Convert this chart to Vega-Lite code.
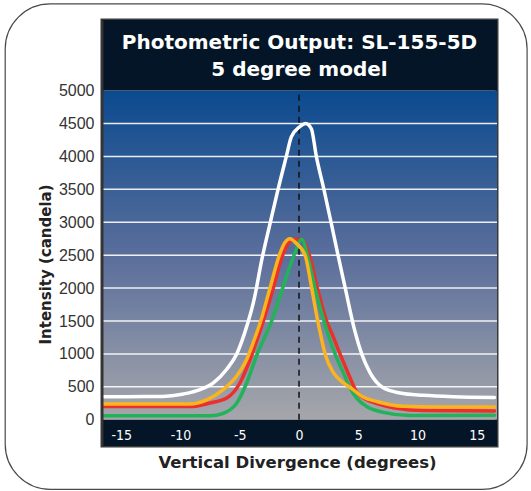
{
  "$schema": "https://vega.github.io/schema/vega-lite/v6.json",
  "width": 395,
  "height": 426,
  "autosize": {"type": "none"},
  "padding": {"left": 102, "top": 20, "right": 34, "bottom": 45},
  "background": "white",
  "title": {
    "text": ["Photometric Output: SL-155-5D", "5 degree model"],
    "color": "white",
    "font": "DejaVu Sans",
    "fontSize": 20,
    "fontWeight": "bold",
    "lineHeight": 27,
    "anchor": "middle",
    "frame": "group",
    "offset": -77
  },
  "datasets": {
    "curves": [
      {"series": "white", "deg": -16.5, "val": 350},
      {"series": "white", "deg": -13, "val": 352},
      {"series": "white", "deg": -11.2, "val": 358},
      {"series": "white", "deg": -9.76, "val": 392},
      {"series": "white", "deg": -8.35, "val": 459},
      {"series": "white", "deg": -7.23, "val": 562},
      {"series": "white", "deg": -6.1, "val": 768},
      {"series": "white", "deg": -5.26, "val": 1000},
      {"series": "white", "deg": -4.56, "val": 1335},
      {"series": "white", "deg": -3.8, "val": 1820},
      {"series": "white", "deg": -3.12, "val": 2450},
      {"series": "white", "deg": -2.42, "val": 3000},
      {"series": "white", "deg": -1.77, "val": 3500},
      {"series": "white", "deg": -1.07, "val": 4000},
      {"series": "white", "deg": -0.65, "val": 4295},
      {"series": "white", "deg": 0.06, "val": 4450},
      {"series": "white", "deg": 0.56, "val": 4500},
      {"series": "white", "deg": 1.04, "val": 4420},
      {"series": "white", "deg": 1.46, "val": 4000},
      {"series": "white", "deg": 2.1, "val": 3500},
      {"series": "white", "deg": 2.7, "val": 3000},
      {"series": "white", "deg": 3.29, "val": 2500},
      {"series": "white", "deg": 3.91, "val": 1990},
      {"series": "white", "deg": 4.73, "val": 1335},
      {"series": "white", "deg": 5.29, "val": 1000},
      {"series": "white", "deg": 5.99, "val": 716},
      {"series": "white", "deg": 7.11, "val": 485},
      {"series": "white", "deg": 8.52, "val": 407},
      {"series": "white", "deg": 10.5, "val": 371},
      {"series": "white", "deg": 13, "val": 350},
      {"series": "white", "deg": 16.5, "val": 340},
      {"series": "red", "deg": -16.5, "val": 200},
      {"series": "red", "deg": -12, "val": 200},
      {"series": "red", "deg": -9.2, "val": 200},
      {"series": "red", "deg": -7.5, "val": 255},
      {"series": "red", "deg": -6.1, "val": 330},
      {"series": "red", "deg": -4.98, "val": 562},
      {"series": "red", "deg": -4.28, "val": 845},
      {"series": "red", "deg": -3.63, "val": 1170},
      {"series": "red", "deg": -3.01, "val": 1500},
      {"series": "red", "deg": -2.17, "val": 2000},
      {"series": "red", "deg": -1.38, "val": 2500},
      {"series": "red", "deg": -0.8, "val": 2700},
      {"series": "red", "deg": -0.3, "val": 2740},
      {"series": "red", "deg": 0.2, "val": 2740},
      {"series": "red", "deg": 0.87, "val": 2500},
      {"series": "red", "deg": 1.55, "val": 2000},
      {"series": "red", "deg": 2.33, "val": 1500},
      {"series": "red", "deg": 2.8, "val": 1300},
      {"series": "red", "deg": 3.46, "val": 1000},
      {"series": "red", "deg": 4.16, "val": 700},
      {"series": "red", "deg": 4.87, "val": 420},
      {"series": "red", "deg": 5.71, "val": 304},
      {"series": "red", "deg": 6.5, "val": 250},
      {"series": "red", "deg": 7.68, "val": 195},
      {"series": "red", "deg": 8.24, "val": 175},
      {"series": "red", "deg": 10.5, "val": 140},
      {"series": "red", "deg": 16.5, "val": 135},
      {"series": "green", "deg": -16.5, "val": 62},
      {"series": "green", "deg": -12, "val": 60},
      {"series": "green", "deg": -7.5, "val": 60},
      {"series": "green", "deg": -6.39, "val": 98},
      {"series": "green", "deg": -5.26, "val": 253},
      {"series": "green", "deg": -4.41, "val": 562},
      {"series": "green", "deg": -3.57, "val": 980},
      {"series": "green", "deg": -2.31, "val": 1500},
      {"series": "green", "deg": -1.38, "val": 2000},
      {"series": "green", "deg": -0.42, "val": 2500},
      {"series": "green", "deg": 0.23, "val": 2740},
      {"series": "green", "deg": 0.7, "val": 2500},
      {"series": "green", "deg": 1.35, "val": 2000},
      {"series": "green", "deg": 2.11, "val": 1500},
      {"series": "green", "deg": 2.48, "val": 1280},
      {"series": "green", "deg": 3.04, "val": 1000},
      {"series": "green", "deg": 3.74, "val": 716},
      {"series": "green", "deg": 4.3, "val": 485},
      {"series": "green", "deg": 4.87, "val": 330},
      {"series": "green", "deg": 5.71, "val": 201},
      {"series": "green", "deg": 7.11, "val": 113},
      {"series": "green", "deg": 9.37, "val": 64},
      {"series": "green", "deg": 16.5, "val": 68},
      {"series": "amber", "deg": -16.5, "val": 240},
      {"series": "amber", "deg": -12, "val": 240},
      {"series": "amber", "deg": -9.2, "val": 240},
      {"series": "amber", "deg": -7.8, "val": 304},
      {"series": "amber", "deg": -6.4, "val": 459},
      {"series": "amber", "deg": -5.26, "val": 665},
      {"series": "amber", "deg": -4.4, "val": 923},
      {"series": "amber", "deg": -3.85, "val": 1180},
      {"series": "amber", "deg": -3.23, "val": 1500},
      {"series": "amber", "deg": -2.45, "val": 2000},
      {"series": "amber", "deg": -1.66, "val": 2500},
      {"series": "amber", "deg": -1.2, "val": 2690},
      {"series": "amber", "deg": -0.76, "val": 2750},
      {"series": "amber", "deg": -0.3, "val": 2690},
      {"series": "amber", "deg": 0.51, "val": 2500},
      {"series": "amber", "deg": 1.07, "val": 2000},
      {"series": "amber", "deg": 1.58, "val": 1500},
      {"series": "amber", "deg": 1.77, "val": 1335},
      {"series": "amber", "deg": 2.2, "val": 1000},
      {"series": "amber", "deg": 2.9, "val": 716},
      {"series": "amber", "deg": 3.74, "val": 562},
      {"series": "amber", "deg": 4.45, "val": 474},
      {"series": "amber", "deg": 5.4, "val": 345},
      {"series": "amber", "deg": 6.56, "val": 278},
      {"series": "amber", "deg": 8.8, "val": 205},
      {"series": "amber", "deg": 12, "val": 195},
      {"series": "amber", "deg": 16.5, "val": 195}
    ],
    "grid": [
      {"v": 500}, {"v": 1000}, {"v": 1500}, {"v": 2000}, {"v": 2500},
      {"v": 3000}, {"v": 3500}, {"v": 4000}, {"v": 4500}
    ],
    "plot": [{"lo": 0, "hi": 5000}],
    "bands": [
      {"part": "title", "lo": 5000, "hi": 6071},
      {"part": "axis", "lo": -398, "hi": 0}
    ],
    "zero": [{"x": 0, "lo": 0, "hi": 5000}],
    "frame": [{"x1": -24.8, "x2": 19.25, "y1": -1056, "y2": 6315}]
  },
  "encoding": {
    "x": {
      "type": "quantitative",
      "title": "Vertical Divergence (degrees)",
      "scale": {"domain": [-16.63, 16.71], "nice": false, "zero": false}
    },
    "y": {
      "type": "quantitative",
      "title": "Intensity (candela)",
      "scale": {"domain": [-398, 6071], "nice": false, "zero": false}
    }
  },
  "layer": [
    {
      "data": {"name": "frame"},
      "mark": {"type": "rect", "fill": null, "stroke": "#4a4a4a", "strokeWidth": 1.2, "cornerRadius": 45},
      "encoding": {
        "x": {"field": "x1"},
        "x2": {"field": "x2"},
        "y": {"field": "y1"},
        "y2": {"field": "y2"}
      }
    },
    {
      "data": {"name": "plot"},
      "mark": {
        "type": "rect",
        "fill": {
          "gradient": "linear", "x1": 0, "y1": 0, "x2": 0, "y2": 1,
          "stops": [
            {"offset": 0, "color": "#0b4a8f"},
            {"offset": 0.5, "color": "#5a6e9b"},
            {"offset": 1, "color": "#a6a7ab"}
          ]
        }
      },
      "encoding": {
        "y": {"field": "lo"},
        "y2": {"field": "hi"}
      }
    },
    {
      "data": {"name": "bands"},
      "mark": {"type": "rect", "fill": "#031526"},
      "encoding": {
        "y": {"field": "lo"},
        "y2": {"field": "hi"}
      }
    },
    {
      "data": {"name": "grid"},
      "mark": {"type": "rule", "stroke": "white", "strokeWidth": 1.5, "opacity": 0.9},
      "encoding": {
        "y": {"field": "v"}
      }
    },
    {
      "data": {"name": "zero"},
      "mark": {"type": "rule", "stroke": "#111111", "strokeWidth": 1.5, "strokeDash": [6, 5]},
      "encoding": {
        "x": {"field": "x"},
        "y": {"field": "lo"},
        "y2": {"field": "hi"}
      }
    },
    {
      "data": {"name": "curves"},
      "mark": {"type": "line", "interpolate": "monotone", "strokeWidth": 3.5, "strokeCap": "round", "strokeJoin": "round"},
      "encoding": {
        "x": {
          "field": "deg",
          "axis": {
            "values": [-15, -10, -5, 0, 5, 10, 15],
            "labelExpr": "'' + datum.value",
            "labelFont": "Liberation Sans Narrow, DejaVu Sans Condensed, sans-serif",
            "labelFontSize": 14,
            "labelColor": "white",
            "labelPadding": -11,
            "labelBaseline": "middle",
            "labelFlush": false,
            "labelOverlap": false,
            "ticks": false,
            "tickSize": 0,
            "domain": false,
            "grid": false,
            "titleFont": "DejaVu Sans",
            "titleFontSize": 16.5,
            "titleFontWeight": "bold",
            "titleColor": "#222222",
            "titleX": 195,
            "titleY": 16,
            "titleBaseline": "middle",
            "zindex": 1
          }
        },
        "y": {
          "field": "val",
          "axis": {
            "values": [0, 500, 1000, 1500, 2000, 2500, 3000, 3500, 4000, 4500, 5000],
            "format": "d",
            "labelFont": "Liberation Sans",
            "labelFontSize": 16,
            "labelColor": "#333333",
            "labelPadding": 8,
            "ticks": false,
            "domain": true,
            "domainColor": "#333333",
            "domainWidth": 2,
            "grid": false,
            "titleFont": "DejaVu Sans",
            "titleFontSize": 15,
            "titleFontWeight": "bold",
            "titleColor": "#222222",
            "titleAngle": -90,
            "titleX": -57,
            "titleY": 244,
            "titleBaseline": "middle",
            "titleAlign": "center",
            "zindex": 1
          }
        },
        "color": {
          "field": "series", "type": "nominal",
          "scale": {"domain": ["white", "red", "green", "amber"], "range": ["#ffffff", "#ec2f2a", "#21b25a", "#fbb41e"]},
          "legend": null
        }
      }
    }
  ],
  "config": {
    "view": {"stroke": "#3a3a3a", "strokeWidth": 3}
  }
}
